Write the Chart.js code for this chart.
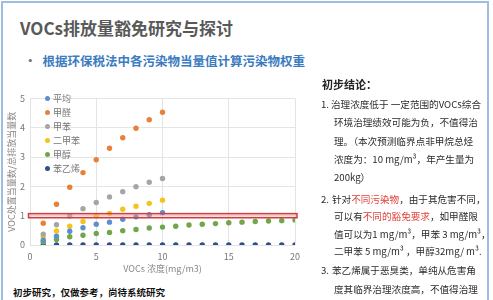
<!DOCTYPE html>
<html lang="zh">
<head>
<meta charset="UTF-8">
<title>VOCs排放量豁免研究与探讨</title>
<script src="https://cdn.jsdelivr.net/npm/chart.js"></script>
<style>
  body { margin: 0; background: #fff; font-family: "Noto Sans CJK SC", "Noto Sans", sans-serif; }
  .slide { position: relative; width: 493px; height: 300px; overflow: hidden; background: #fff; }
  .frame { position: absolute; left: 1px; top: 1px; width: 488px; height: 310px; border: 2px solid #9dbde3; box-sizing: border-box; }
  .title { position: absolute; left: 20px; top: 15px; font-size: 17px; font-weight: bold; color: #595959; white-space: nowrap; }
  .sub { position: absolute; left: 24px; top: 51px; font-size: 12.5px; font-weight: bold; color: #3b7bbf; white-space: nowrap; }
  .sub span { color: #777; margin-right: 6px; }
  .chart { position: absolute; left: 0; top: 88px; }
  .legend { position: absolute; left: 45px; top: 92px; font-size: 9px; color: #777; line-height: 14px; }
  .legend i { display: inline-block; width: 5px; height: 5px; border-radius: 50%; margin-right: 3px; vertical-align: 1px; }
  .note { position: absolute; left: 13px; top: 285px; font-size: 9.5px; font-weight: bold; color: #111; white-space: nowrap; }
  .concl { position: absolute; left: 0; top: 0; width: 493px; height: 300px; font-size: 9.6px; color: #2b2b2b; }
  .concl div { position: absolute; white-space: nowrap; line-height: 12px; }
  .concl .h { left: 322px; font-size: 11px; font-weight: bold; color: #222; }
  .concl .n { left: 321px; }
  .concl .t { left: 334px; }
  .red { color: #e0403a; }
</style>
</head>
<body>
<div class="slide">
  <div class="frame"></div>
  <div class="title">VOCs排放量豁免研究与探讨</div>
  <div class="sub"><span>•</span>根据环保税法中各污染物当量值计算污染物权重</div>
  <canvas id="vocChart" class="chart" width="306" height="190"></canvas>
  <div class="legend" id="legend"></div>
  <div class="note">初步研究，仅做参考，尚待系统研究</div>
  <div class="concl">
    <div class="h" style="top:78px">初步结论：</div>
    <div class="n" style="top:98px">1.</div>
    <div class="t" style="top:98px;left:331px">治理浓度低于 一定范围的VOCs综合</div>
    <div class="t" style="top:116px">环境治理绩效可能为负，不值得治</div>
    <div class="t" style="top:135px">理。（本次预测临界点非甲烷总烃</div>
    <div class="t" style="top:153px">浓度为：10 mg/m³，年产生量为</div>
    <div class="t" style="top:171px">200kg）</div>
    <div class="n" style="top:193px">2.</div>
    <div class="t" style="top:193px;left:332px">针对<span class="red">不同污染物</span>，由于其危害不同，</div>
    <div class="t" style="top:210px">可以有<span class="red">不同的豁免要求</span>，如甲醛限</div>
    <div class="t" style="top:228px">值可以为1 mg/m³，甲苯 3 mg/m³，</div>
    <div class="t" style="top:245px">二甲苯 5 mg/m³ ，甲醇32mg/ m³.</div>
    <div class="n" style="top:264px">3.</div>
    <div class="t" style="top:264px;left:332px">苯乙烯属于恶臭类，单纯从危害角</div>
    <div class="t" style="top:283px">度其临界治理浓度高，不值得治理</div>
  </div>
</div>

<script>
  // 浓度 (mg/m3)
  const concentration = [1, 2, 3, 4, 5, 6, 7, 8, 9, 10, 11, 12, 13, 14, 15, 16, 17, 18, 19, 20];

  // 各污染物 处置当量数/总排放当量数
  const seriesNames = ['平均', '甲醛', '甲苯', '二甲苯', '甲醇', '苯乙烯'];
  const avgValues = [0.16, 0.30, 0.47, 0.59, 0.71, 0.78, 0.88, 0.96, 1.03, 1.10];
  const formaldehyde = [0.74, 1.39, 1.97, 2.47, 2.91, 3.30, 3.66, 3.98, 4.27, 4.53];
  const toluene = [0.37, 0.69, 0.99, 1.24, 1.45, 1.64, 1.82, 1.99, 2.14, 2.27];
  const xylene = [0.27, 0.48, 0.64, 0.80, 0.99, 1.08, 1.22, 1.32, 1.42, 1.53];
  const methanol = [0.10, 0.19, 0.28, 0.33, 0.39, 0.43, 0.49, 0.53, 0.58, 0.61,
                    0.64, 0.68, 0.71, 0.73, 0.76, 0.78, 0.80, 0.82, 0.83, 0.85];
  const styrene = [0, 0, 0, 0, 0, 0, 0, 0, 0, 0, 0, 0, 0, 0, 0, 0, 0, 0, 0, 0];

  const xTicks = [0, 5, 10, 15, 20];
  const yTicks = [0, 1, 2, 3, 4, 5];
  const thresholdBand = [0.93, 1.07];

  const colors = ['#5b8fd0', '#e8803a', '#a5a5a5', '#f5c31c', '#72a64a', '#2f4e8c'];
  const allValues = [avgValues, formaldehyde, toluene, xylene, methanol, styrene];

  const datasets = seriesNames.map((name, i) => ({
    label: name,
    data: allValues[i].map((v, j) => ({ x: concentration[j], y: v })),
    backgroundColor: colors[i],
    borderColor: colors[i],
    pointRadius: 2.7,
    pointBorderWidth: 0
  }));

  // 红色阈值框
  const bandPlugin = {
    id: 'band',
    afterDatasetsDraw(chart) {
      const { ctx, scales } = chart;
      const x0 = scales.x.getPixelForValue(xTicks[0]) - 1.5;
      const x1 = scales.x.getPixelForValue(xTicks[xTicks.length - 1]) + 2;
      const yTop = scales.y.getPixelForValue(thresholdBand[1]);
      const yBot = scales.y.getPixelForValue(thresholdBand[0]);
      ctx.save();
      ctx.fillStyle = 'rgba(240,170,170,0.35)';
      ctx.fillRect(x0, yTop, x1 - x0, yBot - yTop);
      ctx.strokeStyle = '#d33c3c';
      ctx.lineWidth = 1.5;
      ctx.strokeRect(x0, yTop, x1 - x0, yBot - yTop);
      ctx.restore();
    }
  };

  const tickFont = { family: 'Noto Sans CJK SC', size: 9 };

  new Chart(document.getElementById('vocChart'), {
    type: 'scatter',
    data: { datasets },
    plugins: [bandPlugin],
    options: {
      responsive: false,
      animation: false,
      layout: { padding: { left: 6, top: 7, right: 6, bottom: 0 } },
      plugins: { legend: { display: false }, tooltip: { enabled: false } },
      scales: {
        x: {
          type: 'linear', min: 0, max: 20,
          afterBuildTicks: s => { s.ticks = xTicks.map(v => ({ value: v })); },
          afterFit: s => { s.height = 33; },
          grid: { color: '#e4e4e4', drawTicks: false },
          border: { display: false },
          ticks: { color: '#777', font: tickFont, padding: 6 },
          title: { display: true, text: 'VOCs 浓度(mg/m3)', color: '#888', font: tickFont, padding: { top: 2 } }
        },
        y: {
          min: 0, max: 5,
          afterBuildTicks: s => { s.ticks = yTicks.map(v => ({ value: v })); },
          afterFit: s => { s.width = 24; },
          grid: { color: '#e4e4e4', drawTicks: false },
          border: { display: false },
          ticks: { color: '#777', font: tickFont, padding: 5 },
          title: { display: true, text: 'VOC处置当量数/总排放当量数', color: '#888', font: tickFont, padding: 0 }
        }
      }
    }
  });

  // 图内图例
  document.getElementById('legend').innerHTML = seriesNames
    .map((n, i) => `<div><i style="background:${colors[i]}"></i>${n}</div>`).join('');
</script>
</body>
</html>
